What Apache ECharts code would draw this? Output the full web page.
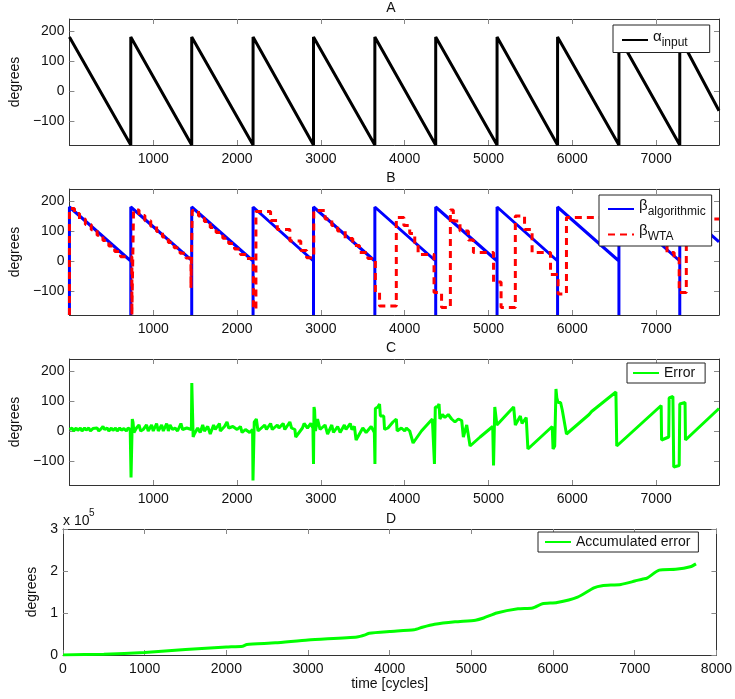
<!DOCTYPE html>
<html>
<head>
<meta charset="utf-8">
<script src="https://cdn.jsdelivr.net/npm/echarts@6.0.0/dist/echarts.min.js"></script>
<style>
  html, body { margin: 0; padding: 0; background: #fff; }
  #main { width: 735px; height: 699px; }
</style>
</head>
<body>
<div id="main"></div>
<script>
// ---- values ----
// A: input angle (sawtooth)
var alphaX = [0, 732, 732, 1459, 1459, 2191, 2191, 2912, 2912, 3644, 3644, 4370, 4370, 5102, 5102, 5824, 5824, 6556, 6556, 7282, 7282, 7750];
var alphaY = [180, -180, 180, -180, 180, -180, 180, -180, 180, -180, 180, -180, 180, -180, 180, -180, 180, -180, 180, -180, 180, -66];

// B: algorithmic estimate
var algX = [0, 0, 732, 732, 732, 1459, 1459, 1459, 2191, 2191, 2191, 2912, 2912, 2912, 3644, 3644, 3644, 4370, 4370, 4370, 5102, 5102, 5102, 5824, 5824, 5824, 6556, 6556, 6556, 7282, 7282, 7282, 7750];
var algY = [-180, 180, 0, -180, 180, 2, -180, 180, 0, -180, 180, 0, -180, 180, 0, -180, 180, 0, -180, 180, 0, -180, 180, 0, -180, 180, 0, -180, 180, 0, -180, 180, 64];

// B: winner-take-all estimate (staircase)
var wtaX = [0, 0, 60, 60, 120, 120, 190, 190, 260, 260, 330, 330, 400, 400, 470, 470, 540, 540, 610, 610, 745, 745, 765, 765,
  830, 830, 900, 900, 970, 970, 1040, 1040, 1110, 1110, 1180, 1180, 1250, 1250, 1320, 1320, 1390, 1390, 1450, 1450, 1465, 1465,
  1540, 1540, 1610, 1610, 1680, 1680, 1750, 1750, 1830, 1830, 1900, 1900, 1970, 1970, 2040, 2040, 2110, 2110, 2195, 2195, 2225, 2225,
  2400, 2400, 2480, 2480, 2630, 2630, 2760, 2760, 2830, 2830, 2915, 2915,
  3050, 3050, 3130, 3130, 3200, 3200, 3290, 3290, 3380, 3380, 3460, 3460, 3560, 3560, 3650, 3650, 3700, 3700, 3900, 3900,
  3990, 3990, 4060, 4060, 4120, 4120, 4160, 4160, 4350, 4350, 4440, 4440, 4545, 4545,
  4580, 4580, 4660, 4660, 4760, 4760, 4820, 4820, 5060, 5060, 5150, 5150, 5320, 5320,
  5430, 5430, 5520, 5520, 5740, 5740, 5830, 5830, 5930, 5930,
  6600, 6600, 6720, 6720, 6840, 6840, 6960, 6960, 7130, 7130, 7215, 7215, 7275, 7275, 7360, 7360, 7750];
var wtaY = [-180, 175, 175, 158, 158, 140, 140, 122, 122, 104, 104, 86, 86, 68, 68, 50, 50, 32, 32, 14, 14, -180, -180, 170,
  170, 152, 152, 134, 134, 116, 116, 98, 98, 80, 80, 62, 62, 44, 44, 26, 26, 10, 10, -90, -90, 168,
  168, 150, 150, 132, 132, 112, 112, 95, 95, 76, 76, 58, 58, 40, 40, 22, 22, 8, 8, -160, -160, 165,
  165, 135, 135, 105, 105, 67, 67, 35, 35, 11, 11, 168,
  168, 140, 140, 118, 118, 100, 100, 75, 75, 52, 52, 28, 28, 8, 8, -105, -105, -150, -150, 145,
  145, 118, 118, 92, 92, 55, 55, 22, 22, -105, -105, -155, -155, 170,
  170, 133, 133, 100, 100, 70, 70, 28, 28, -70, -70, -155, -155, 150,
  150, 105, 105, 28, 28, -45, -45, -110, -110, 145,
  145, 125, 125, 100, 100, 78, 78, 55, 55, 28, 28, 8, 8, -105, -105, 140, 140];

// C: error
var errX = [0, 30, 50, 80, 100, 130, 150, 180, 200, 230, 250, 280, 300, 330, 350, 380, 400, 420, 450, 470, 500, 520, 550, 570, 600, 620, 650, 680, 700, 725,
  735, 745, 750, 758, 770, 800, 830, 850, 880, 920, 940, 980, 1000, 1040, 1060, 1100, 1120, 1160, 1180, 1200, 1230, 1260, 1290, 1330, 1350, 1400, 1455,
  1460, 1472, 1476, 1490, 1530, 1560, 1590, 1610, 1650, 1680, 1720, 1740, 1790, 1800, 1850, 1880, 1900, 1950, 2000, 2040, 2060, 2100, 2150, 2185,
  2190, 2200, 2205, 2230, 2250, 2290, 2330, 2350, 2400, 2420, 2480, 2500, 2550, 2570, 2630, 2650, 2690, 2700, 2780, 2800, 2840, 2880, 2905,
  2912, 2918, 2925, 2935, 2960, 2990, 3050, 3080, 3130, 3150, 3200, 3230, 3280, 3300, 3350, 3370, 3400, 3420, 3500, 3540, 3600, 3638,
  3645, 3650, 3680, 3700, 3710, 3730, 3750, 3760, 3800, 3860, 3900, 3910, 3960, 4000, 4020, 4060, 4100, 4200, 4330,
  4355, 4365, 4390, 4410, 4420, 4450, 4480, 4520, 4560, 4600, 4640, 4680, 4700, 4740, 4780, 4900, 5050,
  5060, 5075, 5090, 5100, 5300, 5320, 5380, 5400, 5450, 5470, 5760, 5770, 5790,
  5805, 5815, 5830, 5860, 5880, 5900, 5930, 6200, 6230, 6520, 6530, 7060, 7065, 7150, 7155, 7200, 7210, 7275, 7282, 7345, 7350, 7750];
var errY = [5, 10, 0, 10, 2, 10, 0, 10, 3, 10, 0, 8, 2, 10, 0, 8, 15, 5, 10, 0, 10, 2, 10, 0, 10, 3, 8, 0, 10, 5,
  -155, -150, 40, 30, -5, 10, 20, 0, 5, 20, 0, 20, 0, 25, 0, 20, 0, 25, 0, 20, 5, 10, 0, 25, 5, 10, 5,
  160, 160, -20, -10, 10, -5, 20, 0, 15, -10, 20, 5, 25, 0, 15, 30, 10, 15, 5, 15, -5, 5, -5, 5,
  -165, -160, 30, 40, 0, 10, 20, 5, 25, 5, 20, 10, 25, 5, 30, 10, 5, -20, 10, 25, 10, 25, 10,
  -110, 80, 70, 0, 40, 5, 20, -10, 20, -5, 15, -5, 20, 5, 25, 5, 15, -30, 10, -5, 15, -5,
  -110, 75, 80, 90, 50, 55, 50, 5, 10, 30, 40, 0, 10, 0, 10, 0, -40, 0, 40,
  -110, 80, 80, 90, 40, 55, 45, 55, 40, 30, 40, 35, -20, 20, -50, -20, 15,
  -115, 80, 75, 20, 80, 20, 50, 25, 45, -60, 15, -60, -50,
  140, 110, 95, 95, 70, 70, -10, 55, 65, 130, -50, 85, -30, -20, 110, 115, -120, -115, 90, 95, -30, 75];

// D: accumulated error
var accX = [0, 500, 1000, 1500, 2000, 2200, 2250, 2600, 3000, 3600, 3700, 3750, 4000, 4300, 4400, 4550, 4800, 5050, 5150, 5310,
  5570, 5750, 5870, 6050, 6300, 6500, 6600, 6830, 7000, 7100, 7150, 7300, 7500, 7680, 7750];
var accY = [0, 2000, 6000, 13000, 19000, 21000, 25000, 29000, 36000, 43000, 48000, 52000, 56000, 60000, 66000, 73000, 79000, 83000, 88000, 100000,
  110000, 112000, 122000, 125000, 138000, 160000, 165000, 168000, 176000, 181000, 183000, 202000, 204000, 210000, 217000];

// tick labels
var timeTicks = [1000, 2000, 3000, 4000, 5000, 6000, 7000];
var timeTicksD = [0, 1000, 2000, 3000, 4000, 5000, 6000, 7000, 8000];
var degTicks = [-100, 0, 100, 200];
var accTicks = [0, 100000, 200000, 300000];

var FONT = '"Liberation Sans", Arial, sans-serif';

function pairs(xs, ys) {
  var out = [];
  for (var i = 0; i < xs.length; i++) out.push([xs[i], ys[i]]);
  return out;
}

var chart = echarts.init(document.getElementById('main'), null, { renderer: 'canvas' });

var gridTops = [19, 189, 359, 529];
var grids = gridTops.map(function (t) {
  return { left: 63, right: 16, top: t, height: 126 };
});

// bottom/left axes carry labels, top/right mirrors only carry inward ticks (matlab box)
function xAxis(i, mirror) {
  var last = i === 3;
  var ticks = last ? timeTicksD : timeTicks;
  return {
    type: 'value', gridIndex: i, position: mirror ? 'top' : 'bottom',
    min: 0, max: last ? 8000 : 7750,
    axisLine: { show: true, onZero: false, lineStyle: { color: '#333', width: 1 } },
    axisTick: { show: true, inside: true, length: 5, customValues: ticks, lineStyle: { color: '#888' } },
    axisLabel: {
      show: !mirror, customValues: ticks, color: '#111', fontSize: 14, fontFamily: FONT, margin: 7,
      formatter: function (v) { return String(v); }
    },
    splitLine: { show: false },
    name: (last && !mirror) ? 'time [cycles]' : '',
    nameLocation: 'middle', nameGap: 21,
    nameTextStyle: { color: '#111', fontSize: 14, fontFamily: FONT }
  };
}

function yAxis(i, mirror) {
  var last = i === 3;
  var ticks = last ? accTicks : degTicks;
  return {
    type: 'value', gridIndex: i, position: mirror ? 'right' : 'left',
    min: last ? 0 : -180, max: last ? 300000 : 240,
    axisLine: { show: true, onZero: false, lineStyle: { color: '#333', width: 1 } },
    axisTick: { show: true, inside: true, length: 5, customValues: ticks, lineStyle: { color: '#888' } },
    axisLabel: {
      show: !mirror, customValues: ticks, color: '#111', fontSize: 14, fontFamily: FONT, margin: 5,
      formatter: function (v) { return last ? String(v / 100000) : (v < 0 ? '\u2212' + (-v) : String(v)); }
    },
    splitLine: { show: false },
    name: mirror ? '' : 'degrees',
    nameLocation: 'middle', nameGap: last ? 18 : 43, nameRotate: 90,
    nameTextStyle: { color: '#111', fontSize: 14, fontFamily: FONT }
  };
}

var xAxes = [], yAxes = [];
for (var i = 0; i < 4; i++) { xAxes.push(xAxis(i, false)); yAxes.push(yAxis(i, false)); }
for (var j = 0; j < 4; j++) { xAxes.push(xAxis(j, true)); yAxes.push(yAxis(j, true)); }

function line(name, idx, data, color, extra) {
  var s = {
    name: name, type: 'line', xAxisIndex: idx, yAxisIndex: idx,
    data: data, symbol: 'none', showSymbol: false, animation: false,
    lineStyle: { color: color, width: 3 }, itemStyle: { color: color }
  };
  for (var k in extra) s[k] = extra[k];
  return s;
}

// legend labels with subscripts
var legendNames = {
  'alpha': '{g|\u03b1}{s|input}',
  'betaAlg': '{g|\u03b2}{s|algorithmic}',
  'betaWTA': '{g|\u03b2}{s|WTA}',
  'Error': 'Error',
  'Accumulated error': 'Accumulated error'
};
function legendBox(names, left, top, pad) {
  return {
    data: names, left: left, top: top, orient: 'vertical',
    backgroundColor: '#fff', borderColor: '#222', borderWidth: 1, borderRadius: 0,
    padding: pad, itemWidth: 26, itemHeight: 14, itemGap: 6, selectedMode: false,
    itemStyle: { opacity: 0, borderWidth: 0 },
    formatter: function (n) { return legendNames[n]; },
    textStyle: {
      color: '#111', fontSize: 14, fontFamily: FONT,
      rich: {
        g: { fontSize: 15, fontFamily: FONT, color: '#111', padding: [0, 0, 7, 0] },
        s: { fontSize: 12, fontFamily: FONT, color: '#111', padding: [5, 0, 0, 0] }
      }
    }
  };
}

function txt(str, x, y, size, align) {
  return {
    type: 'text', x: x, y: y, silent: true,
    style: { text: str, fill: '#111', font: size + 'px ' + FONT, align: align || 'center', verticalAlign: 'middle' }
  };
}

chart.setOption({
  backgroundColor: '#fff',
  grid: grids,
  xAxis: xAxes,
  yAxis: yAxes,
  legend: [
    legendBox(['alpha'], 613, 25, [4, 22, 4, 8]),
    legendBox(['betaAlg', 'betaWTA'], 599, 195, [3, 6, 3, 8]),
    legendBox(['Error'], 627, 363, [3, 10, 3, 5]),
    legendBox(['Accumulated error'], 538, 532, [3, 8, 3, 6])
  ],
  graphic: [
    txt('A', 391, 8, 14),
    txt('B', 391, 178, 14),
    txt('C', 391, 348, 14),
    txt('D', 391, 519, 14),
    txt('x 10', 63, 521, 14, 'left'),
    txt('5', 89, 513, 10, 'left')
  ],
  series: [
    line('alpha', 0, pairs(alphaX, alphaY), '#000'),
    line('betaAlg', 1, pairs(algX, algY), '#0000ff'),
    line('betaWTA', 1, pairs(wtaX, wtaY), '#ff0000', { lineStyle: { color: '#ff0000', width: 3, type: [7, 5] } }),
    line('Error', 2, pairs(errX, errY), '#00ff00'),
    line('Accumulated error', 3, pairs(accX, accY), '#00ff00', { smooth: 0.2 })
  ]
});
</script>
</body>
</html>
